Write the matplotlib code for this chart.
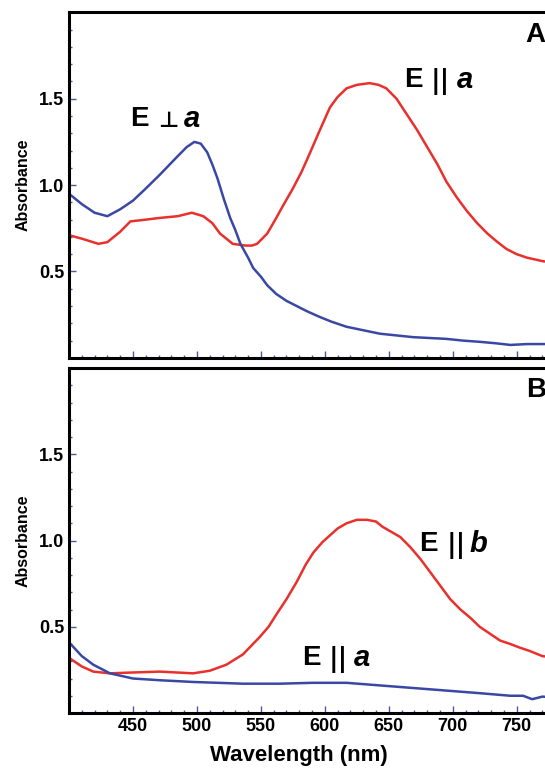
import matplotlib
matplotlib.use("Agg")
import matplotlib.pyplot as plt
from matplotlib.ticker import MultipleLocator

plt.rcParams["font.family"] = ["Liberation Sans", "DejaVu Sans"]
plt.rcParams["font.weight"] = "bold"

# panel A: E perpendicular a (blue), E parallel a (red)
wl_a_perp = [400, 410, 420, 430, 440, 450, 460, 471, 484, 492, 498, 503, 508, 512, 516, 521, 526,
             530, 534, 540, 544, 550, 555, 562, 570, 578, 586, 595, 605, 617, 630, 643, 656,
             669, 682, 695, 708, 721, 733, 745, 758, 770, 780]
abs_a_perp = [0.95, 0.89, 0.84, 0.82, 0.86, 0.91, 0.98, 1.06, 1.16, 1.22, 1.25, 1.24, 1.19, 1.12, 1.04, 0.92,
              0.81, 0.74, 0.66, 0.58, 0.52, 0.47, 0.42, 0.37, 0.33, 0.30, 0.27, 0.24, 0.21, 0.18, 0.16, 0.14, 0.13,
              0.12, 0.115, 0.11, 0.10, 0.093, 0.085, 0.075, 0.08, 0.08, 0.08]

wl_a_par = [400, 410, 423, 430, 440, 448, 460, 471, 485, 496, 505, 512, 518, 523, 528, 533, 538, 543, 547,
            555, 562, 568, 575, 582, 588, 595, 604, 610, 617, 625, 635, 642, 648, 656, 664, 672, 680, 688,
            695, 703, 711, 719, 727, 735, 742, 750, 758, 770, 780]
abs_a_par = [0.71, 0.69, 0.66, 0.67, 0.73, 0.79, 0.80, 0.81, 0.82, 0.84, 0.82, 0.78, 0.72, 0.69, 0.66, 0.655, 0.65, 0.65, 0.66,
             0.72, 0.81, 0.89, 0.98, 1.08, 1.18, 1.30, 1.45, 1.51, 1.56, 1.58, 1.59, 1.58, 1.56, 1.50, 1.41, 1.32, 1.22, 1.12,
             1.02, 0.93, 0.85, 0.78, 0.72, 0.67, 0.63, 0.60, 0.58, 0.56, 0.55]

# panel B: E parallel b (red), E parallel a (blue)
wl_b_b = [400, 410, 419, 432, 450, 471, 497, 510, 523, 536, 549, 556, 562, 570, 578, 585, 591, 598, 604, 610,
          617, 625, 633, 640, 645, 652, 659, 667, 675, 683, 691, 698, 706, 714, 721, 729, 737, 745, 752, 760, 770, 780]
abs_b_b = [0.32, 0.27, 0.24, 0.23, 0.235, 0.24, 0.23, 0.245, 0.28, 0.34, 0.44, 0.50, 0.57, 0.66, 0.76, 0.86, 0.93, 0.99, 1.03, 1.07,
           1.10, 1.12, 1.12, 1.11, 1.08, 1.05, 1.02, 0.96, 0.89, 0.81, 0.73, 0.66, 0.60, 0.55, 0.50, 0.46, 0.42, 0.40, 0.38, 0.36, 0.33, 0.32]

wl_b_a = [400, 410, 419, 432, 450, 471, 497, 536, 565, 590, 617, 643, 669, 695, 721, 745, 755, 762, 770, 780]
abs_b_a = [0.41, 0.33, 0.28, 0.23, 0.20, 0.19, 0.18, 0.17, 0.17, 0.175, 0.175, 0.16, 0.145, 0.13, 0.115, 0.10, 0.10, 0.08, 0.095, 0.09]

red = "#e8302c"
blue = "#3a48a4"
tick_col = "#4a58a8"

fig = plt.figure(figsize=(5.45, 7.68), dpi=100)
ax_a = fig.add_axes([0.1266, 0.534, 0.892, 0.450])
ax_b = fig.add_axes([0.1266, 0.0716, 0.892, 0.4492])

for ax in (ax_a, ax_b):
    ax.set_xlim(400, 780)
    ax.set_ylim(0, 2.0)
    ax.xaxis.set_major_locator(MultipleLocator(50))
    ax.xaxis.set_minor_locator(MultipleLocator(10))
    ax.yaxis.set_major_locator(MultipleLocator(0.5))
    ax.yaxis.set_minor_locator(MultipleLocator(0.1))
    ax.tick_params(which="both", direction="in", color=tick_col, top=False, right=False,
                   labelsize=13, width=1)
    ax.tick_params(which="major", length=5)
    ax.tick_params(which="minor", length=2.5)
    for s in ax.spines.values():
        s.set_linewidth(2.2)
    ax.spines["right"].set_visible(False)
    ax.set_yticks([0.5, 1.0, 1.5])
    ax.set_yticklabels(["0.5", "1.0", "1.5"], fontweight="bold")
    ax.set_ylabel("Absorbance", fontsize=11.5, fontweight="bold", labelpad=6)

ax_a.tick_params(labelbottom=False)
ax_b.set_xticks([450, 500, 550, 600, 650, 700, 750])
ax_b.set_xticklabels(["450", "500", "550", "600", "650", "700", "750"], fontweight="bold")

ax_a.plot(wl_a_par, abs_a_par, color=red, lw=1.8)
ax_a.plot(wl_a_perp, abs_a_perp, color=blue, lw=1.8)
ax_b.plot(wl_b_b, abs_b_b, color=red, lw=1.8)
ax_b.plot(wl_b_a, abs_b_a, color=blue, lw=1.8)

lab = dict(fontsize=20, fontweight="bold", va="center")
it = dict(fontsize=21, fontweight="bold", style="italic", va="center")
bar = dict(fontsize=19, fontweight="bold", va="center", family="DejaVu Sans")


def label(ax, x_e, x_bar, x_it, y, letter):
    ax.text(x_e, y, "E", **lab)
    ax.text(x_bar, y - 0.01, "||", **bar)
    ax.text(x_it, y, letter, **it)


ax_a.text(448, 1.38, "E", **lab)
ax_a.text(470, 1.37, "\u22a5", fontsize=16, fontweight="bold", va="center", family="DejaVu Sans")
ax_a.text(490, 1.38, "a", **it)
label(ax_a, 662, 683, 703, 1.61, "a")
ax_a.text(757, 1.87, "A", fontsize=20, fontweight="bold", va="center")

label(ax_b, 674, 695, 713, 0.98, "b")
label(ax_b, 582, 603, 623, 0.32, "a")
ax_b.text(757, 1.87, "B", fontsize=20, fontweight="bold", va="center")

fig.text(299 / 545, 1 - 756 / 768, "Wavelength (nm)", fontsize=16, fontweight="bold",
         ha="center", va="center")

fig.savefig("out.png", dpi=100)
